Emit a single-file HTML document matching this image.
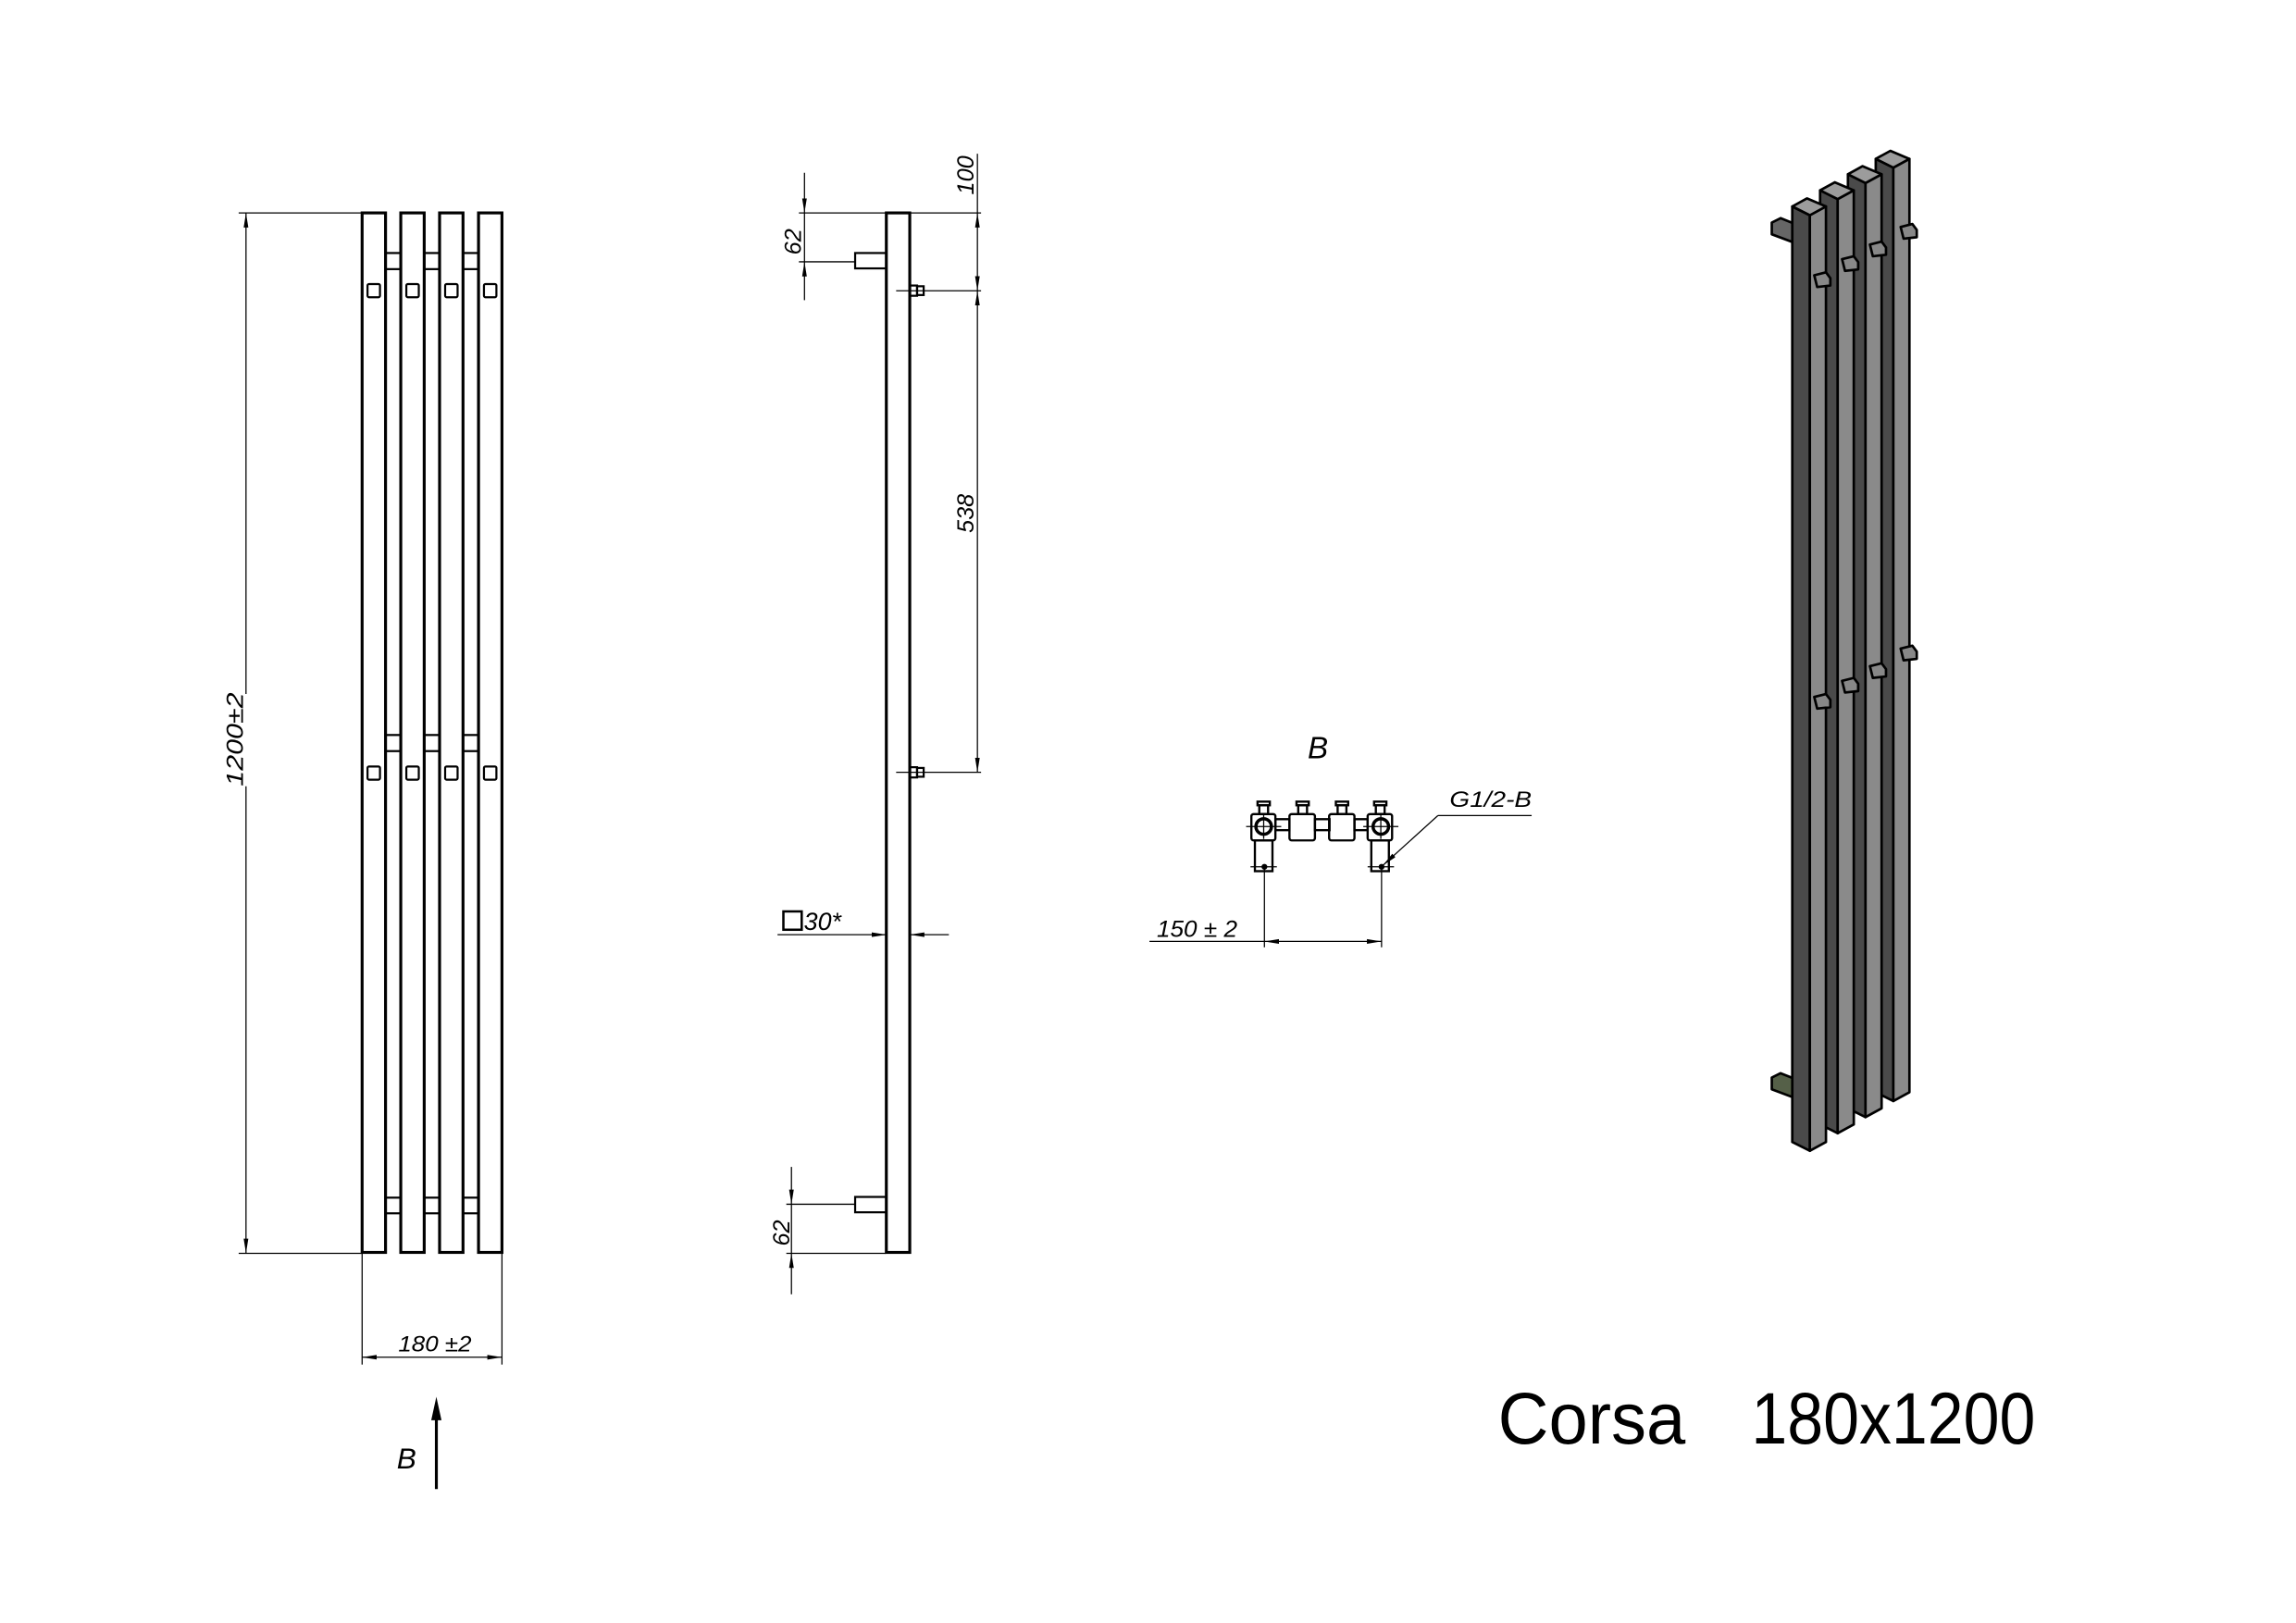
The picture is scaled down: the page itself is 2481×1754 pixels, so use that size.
<!DOCTYPE html>
<html><head><meta charset="utf-8"><style>
html,body{margin:0;padding:0;background:#fff;}
svg{display:block;}
text{font-family:"Liberation Sans",sans-serif;fill:#000;}
.it{font-style:italic;}
</style></head><body>
<svg width="2481" height="1754" viewBox="0 0 1568 1108.5" xmlns="http://www.w3.org/2000/svg">
<defs>
<marker id="a" viewBox="0 0 10 4" refX="10" refY="2" markerWidth="10" markerHeight="4" markerUnits="userSpaceOnUse" orient="auto-start-reverse"><path d="M0,0.4 L10,2 L0,3.6 Z" fill="#000"/></marker>
</defs>
<g stroke="#000" fill="none">
<!-- FRONT VIEW -->
<g stroke-width="2">
<rect x="247.3" y="145.4" width="16" height="710"/>
<rect x="273.7" y="145.4" width="16" height="710"/>
<rect x="300.2" y="145.4" width="16" height="710"/>
<rect x="326.8" y="145.4" width="16" height="710"/>
</g>
<g stroke-width="1.4">
<rect x="263.3" y="172.8" width="10.4" height="11"/><rect x="289.7" y="172.8" width="10.5" height="11"/><rect x="316.2" y="172.8" width="10.6" height="11"/>
<rect x="263.3" y="502" width="10.4" height="11"/><rect x="289.7" y="502" width="10.5" height="11"/><rect x="316.2" y="502" width="10.6" height="11"/>
<rect x="263.3" y="818" width="10.4" height="10.7"/><rect x="289.7" y="818" width="10.5" height="10.7"/><rect x="316.2" y="818" width="10.6" height="10.7"/>
<rect x="251" y="194" width="8.5" height="9" rx="1"/><rect x="277.5" y="194" width="8.5" height="9" rx="1"/><rect x="304" y="194" width="8.5" height="9" rx="1"/><rect x="330.5" y="194" width="8.5" height="9" rx="1"/>
<rect x="251" y="523.5" width="8.5" height="9" rx="1"/><rect x="277.5" y="523.5" width="8.5" height="9" rx="1"/><rect x="304" y="523.5" width="8.5" height="9" rx="1"/><rect x="330.5" y="523.5" width="8.5" height="9" rx="1"/>
</g>
<g stroke-width="0.8">
<line x1="163" y1="145.4" x2="247" y2="145.4"/>
<line x1="163" y1="856" x2="247" y2="856"/>
<line x1="168" y1="145.4" x2="168" y2="474" marker-start="url(#a)"/>
<line x1="168" y1="537" x2="168" y2="856" marker-end="url(#a)"/>
<line x1="247.3" y1="856" x2="247.3" y2="932"/>
<line x1="342.8" y1="856" x2="342.8" y2="932"/>
<line x1="247.3" y1="927" x2="342.8" y2="927" marker-start="url(#a)" marker-end="url(#a)"/>
</g>
<line x1="298" y1="1017" x2="298" y2="962" stroke-width="2"/>
<path d="M298,954 L294.5,970 L301.5,970 Z" fill="#000" stroke="none"/>

<!-- SIDE VIEW -->
<rect x="605.3" y="145.4" width="16" height="710" stroke-width="2"/>
<rect x="584" y="172.8" width="21.3" height="10.5" stroke-width="1.4"/>
<rect x="584" y="817.5" width="21.3" height="10.5" stroke-width="1.4"/>
<rect x="621.3" y="195" width="5" height="7" stroke-width="1.4"/>
<rect x="626.3" y="195.5" width="4.5" height="6" stroke-width="1.4"/>
<rect x="621.3" y="524" width="5" height="7" stroke-width="1.4"/>
<rect x="626.3" y="524.5" width="4.5" height="6" stroke-width="1.4"/>
<g stroke-width="0.8">
<line x1="545.6" y1="145.4" x2="670" y2="145.4"/>
<line x1="545.6" y1="178.8" x2="584" y2="178.8"/>
<line x1="549.4" y1="118" x2="549.4" y2="145.4" marker-end="url(#a)"/>
<line x1="549.4" y1="205" x2="549.4" y2="178.8" marker-end="url(#a)"/>
<line x1="549.4" y1="145.4" x2="549.4" y2="178.8"/>
<line x1="612" y1="198.6" x2="670" y2="198.6"/>
<line x1="612" y1="527.5" x2="670" y2="527.5"/>
<line x1="667.5" y1="105" x2="667.5" y2="145.4"/>
<line x1="667.5" y1="145.4" x2="667.5" y2="198.6" marker-start="url(#a)" marker-end="url(#a)"/>
<line x1="667.5" y1="198.6" x2="667.5" y2="527.5" marker-start="url(#a)" marker-end="url(#a)"/>
<line x1="537" y1="822.5" x2="584" y2="822.5"/>
<line x1="537" y1="856" x2="605" y2="856"/>
<line x1="540.5" y1="797" x2="540.5" y2="822.5" marker-end="url(#a)"/>
<line x1="540.5" y1="884" x2="540.5" y2="856" marker-end="url(#a)"/>
<line x1="540.5" y1="822.5" x2="540.5" y2="856"/>
<line x1="531" y1="638.4" x2="605.3" y2="638.4" marker-end="url(#a)"/>
<line x1="648" y1="638.4" x2="621.3" y2="638.4" marker-end="url(#a)"/>
</g>
<rect x="535" y="622.5" width="12.5" height="12.5" stroke-width="1.6"/>

<!-- VIEW B -->
<g stroke-width="1.5">
<rect x="871" y="559.5" width="9.6" height="7.5"/><rect x="898" y="559.5" width="10" height="7.5"/><rect x="925" y="559.5" width="9" height="7.5"/>
<rect x="854.6" y="556" width="16.4" height="18" rx="1.5"/>
<rect x="934" y="556" width="16.7" height="18" rx="1.5"/>
<rect x="880.6" y="556" width="17.4" height="18" rx="1.5"/>
<rect x="907.7" y="556" width="17.3" height="18" rx="1.5"/>
<rect x="857" y="574" width="12" height="21"/>
<rect x="936.5" y="574" width="12" height="21"/>
<rect x="858.8" y="547.5" width="8.4" height="2.5"/><rect x="860" y="550" width="6" height="6"/>
<rect x="885.4" y="547.5" width="8.4" height="2.5"/><rect x="886.6" y="550" width="6" height="6"/>
<rect x="912.3" y="547.5" width="8.4" height="2.5"/><rect x="913.5" y="550" width="6" height="6"/>
<rect x="938.4" y="547.5" width="8.4" height="2.5"/><rect x="939.6" y="550" width="6" height="6"/>
<circle cx="863" cy="564.5" r="5.3" stroke-width="2.2"/><circle cx="943" cy="564.5" r="5.3" stroke-width="2.2"/>
</g>
<g stroke-width="0.8">
<line x1="851" y1="564.5" x2="875" y2="564.5"/><line x1="931" y1="564.5" x2="955" y2="564.5"/>
<line x1="863" y1="556" x2="863" y2="573"/><line x1="943" y1="556" x2="943" y2="573"/>
<line x1="854" y1="592" x2="872" y2="592"/><line x1="934" y1="592" x2="952" y2="592"/>
<line x1="863.5" y1="592" x2="863.5" y2="647"/><line x1="943.5" y1="592" x2="943.5" y2="647"/>
<line x1="785" y1="643" x2="863.5" y2="643"/>
<line x1="863.5" y1="643" x2="943.5" y2="643" marker-start="url(#a)" marker-end="url(#a)"/>
<line x1="1046" y1="557" x2="982" y2="557"/>
<line x1="982" y1="557" x2="944.5" y2="591" marker-end="url(#a)"/>
</g>
<circle cx="863.5" cy="592" r="2" fill="#000" stroke="none"/><circle cx="943.5" cy="592" r="2" fill="#000" stroke="none"/>
</g>

<!-- texts -->
<text class="it" font-size="16" transform="translate(166,537) rotate(-90)" textLength="64" lengthAdjust="spacingAndGlyphs">1200±2</text>
<text class="it" font-size="15" x="272" y="923" textLength="50" lengthAdjust="spacingAndGlyphs">180 ±2</text>
<text class="it" font-size="20" x="271" y="1003">B</text>
<text class="it" font-size="16" transform="translate(547,174) rotate(-90)">62</text>
<text class="it" font-size="16" transform="translate(665,133) rotate(-90)">100</text>
<text class="it" font-size="16" transform="translate(665,364) rotate(-90)">538</text>
<text class="it" font-size="16" transform="translate(539,851) rotate(-90)">62</text>
<text class="it" font-size="17" x="549" y="635">30*</text>
<text class="it" font-size="21" x="893" y="518">B</text>
<text class="it" font-size="15" x="990" y="551" textLength="56" lengthAdjust="spacingAndGlyphs">G1/2-B</text>
<text class="it" font-size="16" x="790" y="640" textLength="55" lengthAdjust="spacingAndGlyphs">150 ± 2</text>
<text font-size="50" x="1023" y="986" textLength="128" lengthAdjust="spacingAndGlyphs">Corsa</text>
<text font-size="50" x="1196" y="986" textLength="194" lengthAdjust="spacingAndGlyphs">180x1200</text>

<!-- 3D VIEW -->
<g stroke="#000" stroke-width="1.7" stroke-linejoin="round">
<path d="M1210,152 L1216,149 L1226,153 L1226,166 L1210,160 Z" fill="#666"/>
<path d="M1210,736 L1216,733 L1226,737 L1226,750 L1210,744 Z" fill="#556048"/>
<g fill="#777">
<rect x="1245" y="150" width="8" height="8"/><rect x="1264" y="140" width="8" height="8"/><rect x="1283" y="130" width="8" height="8"/>
<rect x="1245" y="438" width="8" height="8"/><rect x="1264" y="428" width="8" height="8"/><rect x="1283" y="418" width="8" height="8"/>
<rect x="1245" y="742" width="8" height="8"/><rect x="1264" y="732" width="8" height="8"/><rect x="1283" y="722" width="8" height="8"/>
</g>
<g>
<path d="M1281,108.5 L1293,114.5 L1293,752 L1281,746 Z" fill="#4a4a4a"/>
<path d="M1293,114.5 L1304,108.5 L1304,746 L1293,752 Z" fill="#8a8a8a"/>
<path d="M1281,108.5 L1291,103 L1304,108.5 L1293,114.5 Z" fill="#9c9c9c"/>
</g>
<path d="M1298,155 L1306,153 L1309,157 L1309,162 L1300,163 Z" fill="#888"/>
<path d="M1298,443 L1306,441 L1309,445 L1309,450 L1300,451 Z" fill="#888"/>
<g>
<path d="M1262,119 L1274,125 L1274,763 L1262,757 Z" fill="#4a4a4a"/>
<path d="M1274,125 L1285,119 L1285,757 L1274,763 Z" fill="#8a8a8a"/>
<path d="M1262,119 L1272,113.5 L1285,119 L1274,125 Z" fill="#9c9c9c"/>
</g>
<path d="M1277,167 L1285,165 L1288,169 L1288,174 L1279,175 Z" fill="#888"/>
<path d="M1277,455 L1285,453 L1288,457 L1288,462 L1279,463 Z" fill="#888"/>
<g>
<path d="M1243,130 L1255,136 L1255,774 L1243,768 Z" fill="#4a4a4a"/>
<path d="M1255,136 L1266,130 L1266,768 L1255,774 Z" fill="#8a8a8a"/>
<path d="M1243,130 L1253,124.5 L1266,130 L1255,136 Z" fill="#9c9c9c"/>
</g>
<path d="M1258,177 L1266,175 L1269,179 L1269,184 L1260,185 Z" fill="#888"/>
<path d="M1258,465 L1266,463 L1269,467 L1269,472 L1260,473 Z" fill="#888"/>
<g>
<path d="M1224,141 L1236,147 L1236,786 L1224,780 Z" fill="#4a4a4a"/>
<path d="M1236,147 L1247,141 L1247,780 L1236,786 Z" fill="#8a8a8a"/>
<path d="M1224,141 L1234,135.5 L1247,141 L1236,147 Z" fill="#9c9c9c"/>
</g>
<path d="M1239,188 L1247,186 L1250,190 L1250,195 L1241,196 Z" fill="#888"/>
<path d="M1239,476 L1247,474 L1250,478 L1250,483 L1241,484 Z" fill="#888"/>
</g>
</svg>
</body></html>
